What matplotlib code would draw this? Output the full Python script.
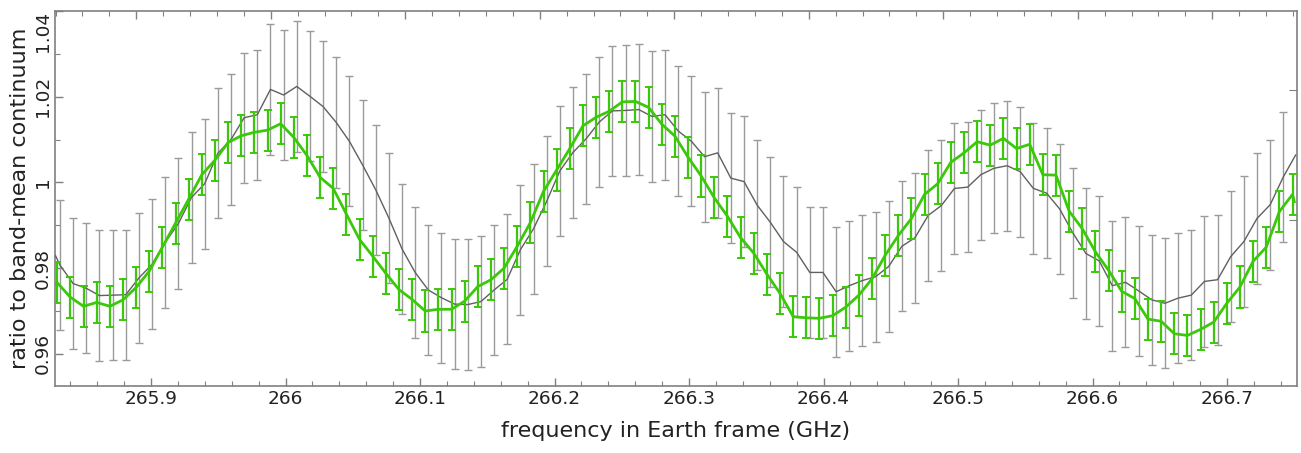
import numpy as np
import matplotlib
matplotlib.use("Agg")
import matplotlib.pyplot as plt
from matplotlib.ticker import MultipleLocator, FixedLocator

# ---- data ----
gray_start, gray_step = 265.8323, 0.009780
gray_vals = [
    0.9807, 0.9764, 0.9753, 0.9736, 0.9737, 0.9738, 0.9777, 0.9809, 0.9860, 0.9904,
    0.9965, 0.9997, 1.0068, 1.0100, 1.0151,
    1.0158, 1.0217, 1.0204, 1.0224, 1.0201, 1.0177, 1.0140, 1.0096, 1.0041, 0.9983,
    0.9917, 0.9845, 0.9790, 0.9749,
    0.9731, 0.9716, 0.9715, 0.9722, 0.9749, 0.9774, 0.9843, 0.9892, 0.9956, 1.0027,
    1.0070, 1.0102, 1.0141, 1.0167, 1.0168,
    1.0170, 1.0154, 1.0158, 1.0120, 1.0096, 1.0060, 1.0069, 1.0010, 1.0002, 0.9947,
    0.9907, 0.9862, 0.9837, 0.9790,
    0.9790, 0.9745, 0.9759, 0.9771, 0.9780, 0.9804, 0.9851, 0.9871, 0.9923, 0.9946,
    0.9986, 0.9989, 1.0018, 1.0033, 1.0039,
    1.0025, 0.9986, 0.9975, 0.9938, 0.9882, 0.9834, 0.9817, 0.9759, 0.9767, 0.9747,
    0.9726, 0.9718, 0.9730, 0.9737,
    0.9769, 0.9773, 0.9827, 0.9862, 0.9916, 0.9948, 1.0013,
]
gray_err = 0.0152
gray_line_ends_x = [265.8290, 266.7510]
gray_line_ends_y = [0.9829, 1.0064]

green_start, green_step = 265.8303, 0.009770
green_vals = [
    0.9766, 0.9732, 0.9711, 0.9720, 0.9711, 0.9726, 0.9755, 0.9793, 0.9849, 0.9905,
    0.9961, 1.0018, 1.0052, 1.0093, 1.0109,
    1.0117, 1.0122, 1.0137, 1.0105, 1.0063, 1.0012, 0.9986, 0.9926, 0.9867, 0.9828,
    0.9788, 0.9750, 0.9727, 0.9700, 0.9704,
    0.9704, 0.9723, 0.9757, 0.9773, 0.9800, 0.9851, 0.9906, 0.9979, 1.0029, 1.0079,
    1.0132, 1.0152, 1.0166, 1.0188,
    1.0189, 1.0175, 1.0136, 1.0108, 1.0059, 1.0015, 0.9964, 0.9921, 0.9871, 0.9835,
    0.9786, 0.9741, 0.9687, 0.9684,
    0.9683, 0.9689, 0.9709, 0.9737, 0.9775, 0.9830, 0.9876, 0.9916, 0.9972, 0.9997,
    1.0047, 1.0069, 1.0095, 1.0087, 1.0103,
    1.0079, 1.0089, 1.0018, 1.0017, 0.9933, 0.9892, 0.9838, 0.9795, 0.9746, 0.9729,
    0.9681, 0.9676, 0.9647, 0.9643,
    0.9657, 0.9674, 0.9718, 0.9756, 0.9816, 0.9849, 0.9932, 0.9972,
]
green_err = 0.0048
green_line_ends_x = [265.8290, 266.7500]
green_line_ends_y = [0.9762, 0.9955]

xlim = (265.8286, 266.7520)
ylim = (0.9525, 1.04)
x_label = "frequency in Earth frame (GHz)"
y_label = "ratio to band-mean continuum"

# ---- build ----
gray_x = gray_start + gray_step * np.arange(len(gray_vals))
green_x = green_start + green_step * np.arange(len(green_vals))

gray_lx = np.concatenate([[gray_line_ends_x[0]], gray_x, [gray_line_ends_x[1]]])
gray_ly = np.concatenate([[gray_line_ends_y[0]], gray_vals, [gray_line_ends_y[1]]])
green_lx = np.concatenate([[green_line_ends_x[0]], green_x, [green_line_ends_x[1]]])
green_ly = np.concatenate([[green_line_ends_y[0]], green_vals, [green_line_ends_y[1]]])

plt.rcParams['font.family'] = ['DejaVu Sans']
fig = plt.figure(figsize=(13.01, 4.53), dpi=100)
ax = fig.add_axes([55/1301, 1 - 386/453, (1297 - 55)/1301, (386 - 11)/453])

frame_col = '#808080'
gray_bar_col = '#9a9a9a'
gray_line_col = '#606060'
green_col = '#3cc80a'

ax.errorbar(gray_x, gray_vals, yerr=gray_err, fmt='none', ecolor=gray_bar_col,
            elinewidth=1.0, capsize=3.0, capthick=1.0, zorder=2)
ax.plot(gray_lx, gray_ly, color=gray_line_col, lw=1.0, zorder=3)
ax.errorbar(green_x, green_vals, yerr=green_err, fmt='none', ecolor=green_col,
            elinewidth=1.6, capsize=2.6, capthick=1.4, zorder=4)
ax.plot(green_lx, green_ly, color=green_col, lw=2.0, zorder=5)

ax.set_xlim(*xlim)
ax.set_ylim(*ylim)

ax.xaxis.set_major_locator(MultipleLocator(0.1))
ax.xaxis.set_minor_locator(MultipleLocator(0.02))
ax.yaxis.set_major_locator(MultipleLocator(0.02))
ax.yaxis.set_minor_locator(MultipleLocator(0.01))
ax.xaxis.set_major_formatter(plt.FuncFormatter(lambda v, p: ('%g' % round(v, 3))))
ax.yaxis.set_major_formatter(plt.FuncFormatter(lambda v, p: ('%g' % round(v, 3))))

ax.tick_params(which='both', direction='in', color=frame_col, labelcolor='#222222',
               top=False, right=False)
ax.tick_params(which='major', length=6, width=1, labelsize=13.3)
ax.tick_params(which='minor', length=3.5, width=0.8)
ax.tick_params(axis='x', which='major', pad=3)
ax.tick_params(axis='y', which='major', pad=2)

for sp in ax.spines.values():
    sp.set_color(frame_col)
    sp.set_linewidth(1.2)

# top frame ticks (offset scale) and right frame ticks
top = ax.twiny()
top.set_xlim(*xlim)
top_major = 265.889 + 0.1 * np.arange(9)
top_minor = 265.829 + 0.02 * np.arange(47)
top.xaxis.set_major_locator(FixedLocator(top_major))
top.xaxis.set_minor_locator(FixedLocator(top_minor))
top.tick_params(which='both', direction='in', color=frame_col, labeltop=False)
top.tick_params(which='major', length=6, width=1)
top.tick_params(which='minor', length=3.5, width=0.8)
right = ax.twinx()
right.set_ylim(*ylim)
right.yaxis.set_major_locator(FixedLocator([0.9912, 1.0216]))
right.tick_params(which='both', direction='in', color=frame_col, labelright=False, length=6)
for a in (top, right):
    for sp in a.spines.values():
        sp.set_visible(False)

ax.set_xlabel(x_label, fontsize=16, color='#222222', labelpad=9)
ax.set_ylabel(y_label, fontsize=16, color='#222222', labelpad=3)

fig.canvas.draw()
for lab in ax.get_yticklabels():
    lab.set_rotation(90)
    lab.set_va('center')
    if abs(lab.get_position()[1] - ylim[1]) < 1e-6:
        lab.set_va('top')

fig.savefig('out.png', dpi=100)
